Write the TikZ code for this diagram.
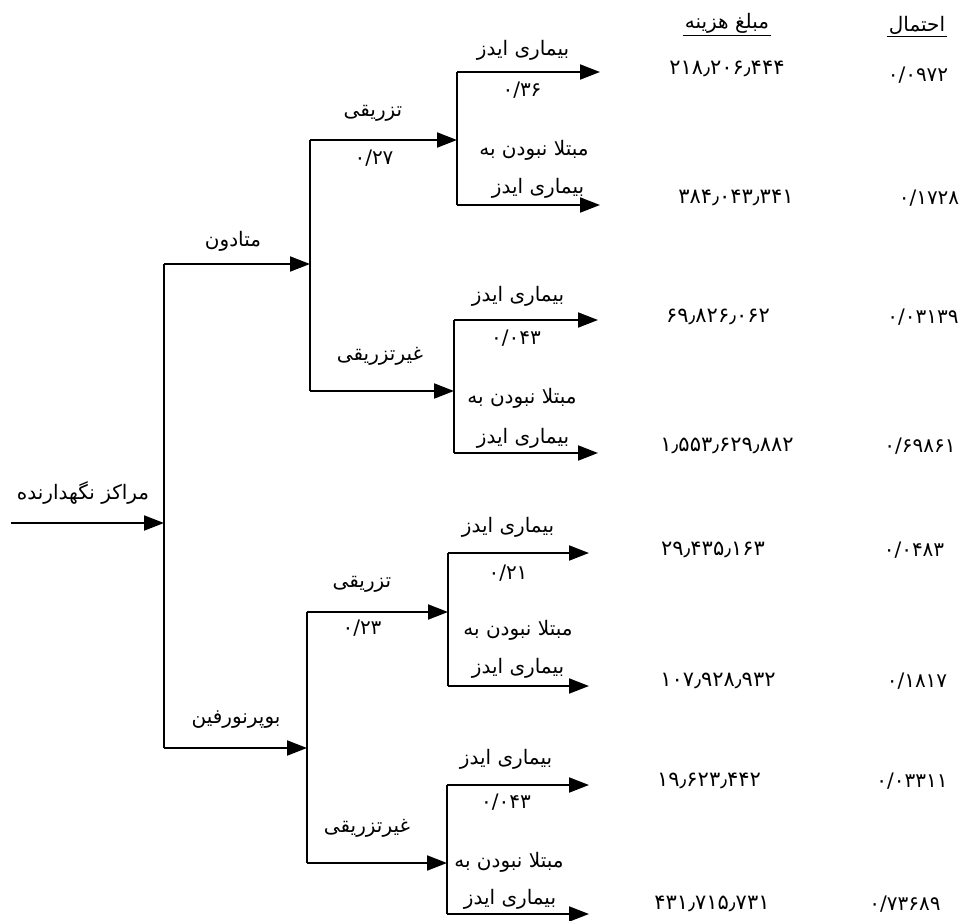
\documentclass[tikz,border=0pt]{standalone}
\usepackage{fontspec}
\newfontfamily\farsi[Script=Arabic]{DejaVu Sans}
\TeXXeTstate=1
\usetikzlibrary{arrows.meta}
\newcommand{\fa}[1]{{\farsi\beginR#1\endR}}
\newcommand{\fn}[1]{{\farsi#1}}

\begin{document}
\begin{tikzpicture}[x=1pt,y=-1pt,
        arr/.style={line width=2pt,-{Triangle[length=20pt,width=15pt]}},
        bar/.style={line width=2pt},
        lbl/.style={font=\fontsize{20}{22}\selectfont,inner sep=1pt},
        cost/.style={font=\fontsize{21}{23}\selectfont,inner sep=1pt},
        hdr/.style={lbl,inner sep=2pt}]
        \useasboundingbox (0,0) rectangle (962,921);
        % root
        \coordinate (root) at (11,523);
        \coordinate (r) at (164,523);
        \coordinate (r-top) at (164,264);
        \coordinate (r-bot) at (164,748);
        % first split
        \coordinate (m) at (310,264);
        \coordinate (m-top) at (310,140);
        \coordinate (m-bot) at (310,391);
        \coordinate (b) at (307,748);
        \coordinate (b-top) at (307,612);
        \coordinate (b-bot) at (307,863);
        % second split
        \coordinate (mt) at (457,140);
        \coordinate (mt-top) at (457,72);
        \coordinate (mt-bot) at (457,205);
        \coordinate (mg) at (454,391);
        \coordinate (mg-top) at (454,320);
        \coordinate (mg-bot) at (454,453);
        \coordinate (bt) at (448,612);
        \coordinate (bt-top) at (448,553);
        \coordinate (bt-bot) at (448,686);
        \coordinate (bg) at (447,863);
        \coordinate (bg-top) at (447,785);
        \coordinate (bg-bot) at (447,914);
        % leaves
        \coordinate (l1) at (600,72);
        \coordinate (l2) at (600,205);
        \coordinate (l3) at (598,320);
        \coordinate (l4) at (598,453);
        \coordinate (l5) at (589,553);
        \coordinate (l6) at (589,686);
        \coordinate (l7) at (589,785);
        \coordinate (l8) at (589,914);

        \draw[arr] (root) -- (r);
        \draw[bar] (r-top) -- (r-bot);
        \draw[arr] (r-top) -- (m);
        \draw[arr] (r-bot) -- (b);
        \draw[bar] (m-top) -- (m-bot);
        \draw[bar] (b-top) -- (b-bot);
        \draw[arr] (m-top) -- (mt);
        \draw[arr] (m-bot) -- (mg);
        \draw[arr] (b-top) -- (bt);
        \draw[arr] (b-bot) -- (bg);
        \draw[bar] (mt-top) -- (mt-bot);
        \draw[bar] (mg-top) -- (mg-bot);
        \draw[bar] (bt-top) -- (bt-bot);
        \draw[bar] (bg-top) -- (bg-bot);
        \draw[arr] (mt-top) -- (l1);
        \draw[arr] (mt-bot) -- (l2);
        \draw[arr] (mg-top) -- (l3);
        \draw[arr] (mg-bot) -- (l4);
        \draw[arr] (bt-top) -- (l5);
        \draw[arr] (bt-bot) -- (l6);
        \draw[arr] (bg-top) -- (l7);
        \draw[arr] (bg-bot) -- (l8);

        % branch labels
        \node[lbl] (root-lbl) at (83,493) {\fa{مراکز نگهدارنده}};
        \node[lbl] (met-lbl) at (233,241) {\fa{متادون}};
        \node[lbl] (bup-lbl) at (236,720) {\fa{بوپرنورفین}};
        \node[lbl] (mt-lbl) at (373,113) {\fa{تزریقی}};
        \node[lbl] (mt-p) at (374,158) {\fn{۰/۲۷}};
        \node[lbl] (mg-lbl) at (380,356) {\fa{غیرتزریقی}};
        \node[lbl] (bt-lbl) at (362,584) {\fa{تزریقی}};
        \node[lbl] (bt-p) at (362,628) {\fn{۰/۲۳}};
        \node[lbl] (bg-lbl) at (367,828) {\fa{غیرتزریقی}};
        % leaf labels
        \node[lbl] (l1-lbl) at (523,50) {\fa{بیماری ایدز}};
        \node[lbl] (l1-p) at (522,90) {\fn{۰/۳۶}};
        \node[lbl] (l2-lbl) at (534,150) {\fa{مبتلا نبودن به}};
        \node[lbl] (l2-lbl2) at (538,188) {\fa{بیماری ایدز}};
        \node[lbl] (l3-lbl) at (518,296) {\fa{بیماری ایدز}};
        \node[lbl] (l3-p) at (516,338) {\fn{۰/۰۴۳}};
        \node[lbl] (l4-lbl) at (522,398) {\fa{مبتلا نبودن به}};
        \node[lbl] (l4-lbl2) at (523,438) {\fa{بیماری ایدز}};
        \node[lbl] (l5-lbl) at (508,527) {\fa{بیماری ایدز}};
        \node[lbl] (l5-p) at (508,573) {\fn{۰/۲۱}};
        \node[lbl] (l6-lbl) at (518,630) {\fa{مبتلا نبودن به}};
        \node[lbl] (l6-lbl2) at (518,668) {\fa{بیماری ایدز}};
        \node[lbl] (l7-lbl) at (506,759) {\fa{بیماری ایدز}};
        \node[lbl] (l7-p) at (506,802) {\fn{۰/۰۴۳}};
        \node[lbl] (l8-lbl) at (509,862) {\fa{مبتلا نبودن به}};
        \node[lbl] (l8-lbl2) at (510,899) {\fa{بیماری ایدز}};

        % columns
        \node[hdr] (cost-hdr) at (727,23) {\fa{مبلغ هزینه}};
        \node[hdr] (prob-hdr) at (917,25) {\fa{احتمال}};
        \draw[line width=1pt] (cost-hdr.south west) -- (cost-hdr.south east);
        \draw[line width=1pt] (prob-hdr.south west) -- (prob-hdr.south east);
        \node[cost] (c1) at (727,69) {\fn{۲۱۸٫۲۰۶٫۴۴۴}};
        \node[cost] (c2) at (736,198) {\fn{۳۸۴٫۰۴۳٫۳۴۱}};
        \node[cost] (c3) at (718,317) {\fn{۶۹٫۸۲۶٫۰۶۲}};
        \node[cost] (c4) at (727,446) {\fn{۱٫۵۵۳٫۶۲۹٫۸۸۲}};
        \node[cost] (c5) at (713,550) {\fn{۲۹٫۴۳۵٫۱۶۳}};
        \node[cost] (c6) at (718,681) {\fn{۱۰۷٫۹۲۸٫۹۳۲}};
        \node[cost] (c7) at (709,781) {\fn{۱۹٫۶۲۳٫۴۴۲}};
        \node[cost] (c8) at (712,904) {\fn{۴۳۱٫۷۱۵٫۷۳۱}};
        \node[lbl] (p1) at (918,75) {\fn{۰/۰۹۷۲}};
        \node[lbl] (p2) at (929,198) {\fn{۰/۱۷۲۸}};
        \node[lbl] (p3) at (923,317) {\fn{۰/۰۳۱۳۹}};
        \node[lbl] (p4) at (920,446) {\fn{۰/۶۹۸۶۱}};
        \node[lbl] (p5) at (914,550) {\fn{۰/۰۴۸۳}};
        \node[lbl] (p6) at (917,681) {\fn{۰/۱۸۱۷}};
        \node[lbl] (p7) at (912,781) {\fn{۰/۰۳۳۱۱}};
        \node[lbl] (p8) at (905,904) {\fn{۰/۷۳۶۸۹}};
\end{tikzpicture}
\end{document}
